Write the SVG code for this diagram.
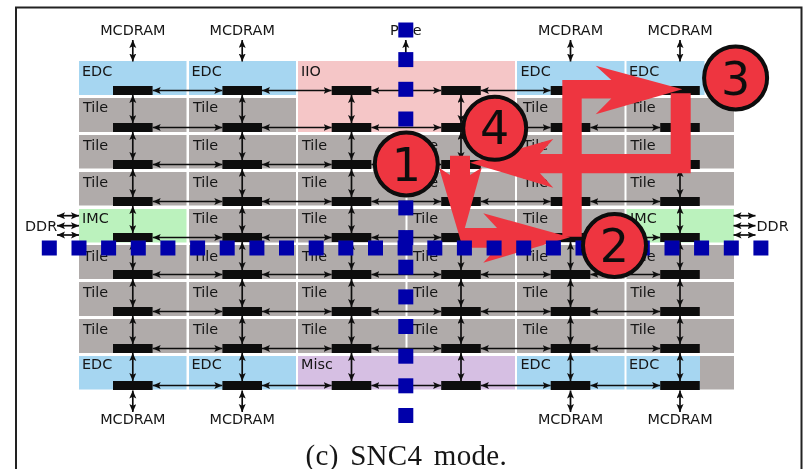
<svg xmlns="http://www.w3.org/2000/svg" width="808" height="469" viewBox="0 0 808 469">
<style>
text{font-family:"DejaVu Sans",sans-serif;font-size:14.4px;fill:#151515}
.m{text-anchor:middle}
.edc{fill:#a6d6f1}.tile{fill:#b0abaa}.iio{fill:#f5c6c7}.misc{fill:#d6bfe3}.imc{fill:#bbf2bd}
.r{fill:#111}
.c path{fill:none;stroke:#111;stroke-width:1.7;marker-start:url(#h);marker-end:url(#h)}
.red{fill:#ee3640}
.d{fill:#0000aa}
.n circle{fill:#ee3640;stroke:#0a0a0a;stroke-width:4}
.n text{font-size:46px;text-anchor:middle;fill:#111}
</style>
<defs>
<marker id="h" markerUnits="userSpaceOnUse" markerWidth="9" markerHeight="8" refX="8" refY="3.500" orient="auto-start-reverse"><path d="M0 0L8 3.500L0 7L1.700 3.500z" fill="#111"/></marker>
<rect id="dot" class="d" x="-7.500" y="-7.500" width="15" height="15"/>
<filter id="soft" x="0" y="0" width="100%" height="100%" filterUnits="userSpaceOnUse"><feGaussianBlur stdDeviation="0.4"/></filter>
</defs>
<rect width="808" height="469" fill="#fff"/>
<g filter="url(#soft)">
<path d="M16 469V7.500H801.500V469" fill="none" stroke="#222" stroke-width="2"/>

<g id="iio"><rect class="iio" x="298" y="61" width="217" height="71"/><text x="301" y="76">IIO</text></g>
<g id="misc"><rect class="misc" x="298" y="356" width="217" height="33.500"/><text x="301" y="369">Misc</text></g>

<g id="r0c1"><rect class="edc" x="79" y="61" width="107.500" height="34"/><text x="82" y="76">EDC</text><rect class="r" x="113" y="86" width="39.600" height="9"/></g>
<g id="r0c2"><rect class="edc" x="189" y="61" width="107" height="34"/><text x="191.500" y="76">EDC</text><rect class="r" x="222.400" y="86" width="39.600" height="9"/></g>
<g id="r0c3"><rect class="r" x="331.700" y="86" width="39.600" height="9"/></g>
<g id="r0c4"><rect class="r" x="441.200" y="86" width="39.600" height="9"/></g>
<g id="r0c5"><rect class="edc" x="517" y="61" width="107.500" height="34"/><text x="520.500" y="76">EDC</text><rect class="r" x="550.700" y="86" width="39.600" height="9"/></g>
<g id="r0c6"><rect class="edc" x="626.500" y="61" width="78" height="34"/><text x="629" y="76">EDC</text><rect class="r" x="660.200" y="86" width="39.600" height="9"/></g>

<g id="r1c1"><rect class="tile" x="79" y="98" width="107.500" height="34"/><text x="83" y="112">Tile</text><rect class="r" x="113" y="123" width="39.600" height="9"/></g>
<g id="r1c2"><rect class="tile" x="189" y="98" width="107" height="34"/><text x="193" y="112">Tile</text><rect class="r" x="222.400" y="123" width="39.600" height="9"/></g>
<g id="r1c3"><rect class="r" x="331.700" y="123" width="39.600" height="9"/></g>
<g id="r1c4"><rect class="r" x="441.200" y="123" width="39.600" height="9"/></g>
<g id="r1c5"><rect class="tile" x="517" y="98" width="107.500" height="34"/><text x="523" y="112">Tile</text><rect class="r" x="550.700" y="123" width="39.600" height="9"/></g>
<g id="r1c6"><rect class="tile" x="626.500" y="98" width="107.500" height="34"/><text x="630.500" y="112">Tile</text><rect class="r" x="660.200" y="123" width="39.600" height="9"/></g>

<g id="r2c1"><rect class="tile" x="79" y="135" width="107.500" height="33.500"/><text x="83" y="149.500">Tile</text><rect class="r" x="113" y="160" width="39.600" height="9"/></g>
<g id="r2c2"><rect class="tile" x="189" y="135" width="107" height="33.500"/><text x="193" y="149.500">Tile</text><rect class="r" x="222.400" y="160" width="39.600" height="9"/></g>
<g id="r2c3"><rect class="tile" x="298" y="135" width="107.500" height="33.500"/><text x="302" y="149.500">Tile</text><rect class="r" x="331.700" y="160" width="39.600" height="9"/></g>
<g id="r2c4"><rect class="tile" x="407.500" y="135" width="107.500" height="33.500"/><text x="413" y="149.500">Tile</text><rect class="r" x="441.200" y="160" width="39.600" height="9"/></g>
<g id="r2c5"><rect class="tile" x="517" y="135" width="107.500" height="33.500"/><text x="523" y="149.500">Tile</text><rect class="r" x="550.700" y="160" width="39.600" height="9"/></g>
<g id="r2c6"><rect class="tile" x="626.500" y="135" width="107.500" height="33.500"/><text x="630.500" y="149.500">Tile</text><rect class="r" x="660.200" y="160" width="39.600" height="9"/></g>

<g id="r3c1"><rect class="tile" x="79" y="172" width="107.500" height="33.500"/><text x="83" y="186.500">Tile</text><rect class="r" x="113" y="197" width="39.600" height="9"/></g>
<g id="r3c2"><rect class="tile" x="189" y="172" width="107" height="33.500"/><text x="193" y="186.500">Tile</text><rect class="r" x="222.400" y="197" width="39.600" height="9"/></g>
<g id="r3c3"><rect class="tile" x="298" y="172" width="107.500" height="33.500"/><text x="302" y="186.500">Tile</text><rect class="r" x="331.700" y="197" width="39.600" height="9"/></g>
<g id="r3c4"><rect class="tile" x="407.500" y="172" width="107.500" height="33.500"/><text x="413" y="186.500">Tile</text><rect class="r" x="441.200" y="197" width="39.600" height="9"/></g>
<g id="r3c5"><rect class="tile" x="517" y="172" width="107.500" height="33.500"/><text x="523" y="186.500">Tile</text><rect class="r" x="550.700" y="197" width="39.600" height="9"/></g>
<g id="r3c6"><rect class="tile" x="626.500" y="172" width="107.500" height="33.500"/><text x="630.500" y="186.500">Tile</text><rect class="r" x="660.200" y="197" width="39.600" height="9"/></g>

<g id="r4c1"><rect class="imc" x="79" y="209" width="107.500" height="33.500"/><text x="82" y="223">IMC</text><rect class="r" x="113" y="233" width="39.600" height="9"/></g>
<g id="r4c2"><rect class="tile" x="189" y="209" width="107" height="33.500"/><text x="193" y="223">Tile</text><rect class="r" x="222.400" y="233" width="39.600" height="9"/></g>
<g id="r4c3"><rect class="tile" x="298" y="209" width="107.500" height="33.500"/><text x="302" y="223">Tile</text><rect class="r" x="331.700" y="233" width="39.600" height="9"/></g>
<g id="r4c4"><rect class="tile" x="407.500" y="209" width="107.500" height="33.500"/><text x="413" y="223">Tile</text><rect class="r" x="441.200" y="233" width="39.600" height="9"/></g>
<g id="r4c5"><rect class="tile" x="517" y="209" width="107.500" height="33.500"/><text x="523" y="223">Tile</text><rect class="r" x="550.700" y="233" width="39.600" height="9"/></g>
<g id="r4c6"><rect class="imc" x="626.500" y="209" width="107.500" height="33.500"/><text x="630" y="223">IMC</text><rect class="r" x="660.200" y="233" width="39.600" height="9"/></g>

<g id="r5c1"><rect class="tile" x="79" y="245" width="107.500" height="34"/><text x="83" y="261">Tile</text><rect class="r" x="113" y="270" width="39.600" height="9"/></g>
<g id="r5c2"><rect class="tile" x="189" y="245" width="107" height="34"/><text x="193" y="261">Tile</text><rect class="r" x="222.400" y="270" width="39.600" height="9"/></g>
<g id="r5c3"><rect class="tile" x="298" y="245" width="107.500" height="34"/><text x="302" y="261">Tile</text><rect class="r" x="331.700" y="270" width="39.600" height="9"/></g>
<g id="r5c4"><rect class="tile" x="407.500" y="245" width="107.500" height="34"/><text x="413" y="261">Tile</text><rect class="r" x="441.200" y="270" width="39.600" height="9"/></g>
<g id="r5c5"><rect class="tile" x="517" y="245" width="107.500" height="34"/><text x="523" y="261">Tile</text><rect class="r" x="550.700" y="270" width="39.600" height="9"/></g>
<g id="r5c6"><rect class="tile" x="626.500" y="245" width="107.500" height="34"/><text x="630.500" y="261">Tile</text><rect class="r" x="660.200" y="270" width="39.600" height="9"/></g>

<g id="r6c1"><rect class="tile" x="79" y="282" width="107.500" height="34"/><text x="83" y="296.500">Tile</text><rect class="r" x="113" y="307" width="39.600" height="9"/></g>
<g id="r6c2"><rect class="tile" x="189" y="282" width="107" height="34"/><text x="193" y="296.500">Tile</text><rect class="r" x="222.400" y="307" width="39.600" height="9"/></g>
<g id="r6c3"><rect class="tile" x="298" y="282" width="107.500" height="34"/><text x="302" y="296.500">Tile</text><rect class="r" x="331.700" y="307" width="39.600" height="9"/></g>
<g id="r6c4"><rect class="tile" x="407.500" y="282" width="107.500" height="34"/><text x="413" y="296.500">Tile</text><rect class="r" x="441.200" y="307" width="39.600" height="9"/></g>
<g id="r6c5"><rect class="tile" x="517" y="282" width="107.500" height="34"/><text x="523" y="296.500">Tile</text><rect class="r" x="550.700" y="307" width="39.600" height="9"/></g>
<g id="r6c6"><rect class="tile" x="626.500" y="282" width="107.500" height="34"/><text x="630.500" y="296.500">Tile</text><rect class="r" x="660.200" y="307" width="39.600" height="9"/></g>

<g id="r7c1"><rect class="tile" x="79" y="319" width="107.500" height="34"/><text x="83" y="333.500">Tile</text><rect class="r" x="113" y="344" width="39.600" height="9"/></g>
<g id="r7c2"><rect class="tile" x="189" y="319" width="107" height="34"/><text x="193" y="333.500">Tile</text><rect class="r" x="222.400" y="344" width="39.600" height="9"/></g>
<g id="r7c3"><rect class="tile" x="298" y="319" width="107.500" height="34"/><text x="302" y="333.500">Tile</text><rect class="r" x="331.700" y="344" width="39.600" height="9"/></g>
<g id="r7c4"><rect class="tile" x="407.500" y="319" width="107.500" height="34"/><text x="413" y="333.500">Tile</text><rect class="r" x="441.200" y="344" width="39.600" height="9"/></g>
<g id="r7c5"><rect class="tile" x="517" y="319" width="107.500" height="34"/><text x="523" y="333.500">Tile</text><rect class="r" x="550.700" y="344" width="39.600" height="9"/></g>
<g id="r7c6"><rect class="tile" x="626.500" y="319" width="107.500" height="34"/><text x="630.500" y="333.500">Tile</text><rect class="r" x="660.200" y="344" width="39.600" height="9"/></g>

<g id="r8c1"><rect class="edc" x="79" y="356" width="107.500" height="33.500"/><text x="82" y="369">EDC</text><rect class="r" x="113" y="381" width="39.600" height="9"/></g>
<g id="r8c2"><rect class="edc" x="189" y="356" width="107" height="33.500"/><text x="191.500" y="369">EDC</text><rect class="r" x="222.400" y="381" width="39.600" height="9"/></g>
<g id="r8c3"><rect class="r" x="331.700" y="381" width="39.600" height="9"/></g>
<g id="r8c4"><rect class="r" x="441.200" y="381" width="39.600" height="9"/></g>
<g id="r8c5"><rect class="edc" x="517" y="356" width="107.500" height="33.500"/><text x="520.500" y="369">EDC</text><rect class="r" x="550.700" y="381" width="39.600" height="9"/></g>
<g id="r8c6"><rect class="tile" x="700" y="356" width="34" height="33.500"/><rect class="edc" x="626.500" y="356" width="73.500" height="33.500"/><text x="629" y="369">EDC</text><rect class="r" x="660.200" y="381" width="39.600" height="9"/></g>

<g id="mcdram-top"><text class="m" x="132.800" y="35">MCDRAM</text><text class="m" x="242.200" y="35">MCDRAM</text><text class="m" x="405.800" y="35">PCIe</text><text class="m" x="570.500" y="35">MCDRAM</text><text class="m" x="680" y="35">MCDRAM</text></g>
<g id="mcdram-bottom"><text class="m" x="132.800" y="423.500">MCDRAM</text><text class="m" x="242.200" y="423.500">MCDRAM</text><text class="m" x="570.500" y="423.500">MCDRAM</text><text class="m" x="680" y="423.500">MCDRAM</text></g>
<g id="ddr"><text x="25" y="230.500">DDR</text><text x="756.500" y="230.500">DDR</text></g>

<g id="connectors" class="c">
<path d="M132.800 40V61.500"/><path d="M242.200 40V61.500"/><path d="M405.800 40V61.500"/><path d="M570.500 40V61.500"/><path d="M680 40V61.500"/>
<path d="M132.800 390.500V412"/><path d="M242.200 390.500V412"/><path d="M570.500 390.500V412"/><path d="M680 390.500V412"/>
<path d="M57 215.700H79"/><path d="M57 225.700H79"/><path d="M57 235H79"/><path d="M733.500 215.700H755.500"/><path d="M733.500 225.700H755.500"/><path d="M733.500 235H755.500"/>
<path d="M152.700 90.500H222.300"/><path d="M262 90.500H331.600"/><path d="M371.400 90.500H441.100"/><path d="M480.900 90.500H550.600"/><path d="M590.400 90.500H660.100"/>
<path d="M152.700 127.500H222.300"/><path d="M262 127.500H331.600"/><path d="M371.400 127.500H441.100"/><path d="M480.900 127.500H550.600"/><path d="M590.400 127.500H660.100"/>
<path d="M152.700 164.500H222.300"/><path d="M262 164.500H331.600"/><path d="M371.400 164.500H441.100"/><path d="M480.900 164.500H550.600"/><path d="M590.400 164.500H660.100"/>
<path d="M152.700 201.500H222.300"/><path d="M262 201.500H331.600"/><path d="M371.400 201.500H441.100"/><path d="M480.900 201.500H550.600"/><path d="M590.400 201.500H660.100"/>
<path d="M152.700 237.500H222.300"/><path d="M262 237.500H331.600"/><path d="M371.400 237.500H441.100"/><path d="M480.900 237.500H550.600"/><path d="M590.400 237.500H660.100"/>
<path d="M152.700 274.500H222.300"/><path d="M262 274.500H331.600"/><path d="M371.400 274.500H441.100"/><path d="M480.900 274.500H550.600"/><path d="M590.400 274.500H660.100"/>
<path d="M152.700 311.500H222.300"/><path d="M262 311.500H331.600"/><path d="M371.400 311.500H441.100"/><path d="M480.900 311.500H550.600"/><path d="M590.400 311.500H660.100"/>
<path d="M152.700 348.500H222.300"/><path d="M262 348.500H331.600"/><path d="M371.400 348.500H441.100"/><path d="M480.900 348.500H550.600"/><path d="M590.400 348.500H660.100"/>
<path d="M152.700 385.500H222.300"/><path d="M262 385.500H331.600"/><path d="M371.400 385.500H441.100"/><path d="M480.900 385.500H550.600"/><path d="M590.400 385.500H660.100"/>
<path d="M132.800 95V123"/><path d="M132.800 132V160"/><path d="M132.800 169V197"/><path d="M132.800 206V233"/><path d="M132.800 242V270"/><path d="M132.800 279V307"/><path d="M132.800 316V344"/><path d="M132.800 353V381"/>
<path d="M242.200 95V123"/><path d="M242.200 132V160"/><path d="M242.200 169V197"/><path d="M242.200 206V233"/><path d="M242.200 242V270"/><path d="M242.200 279V307"/><path d="M242.200 316V344"/><path d="M242.200 353V381"/>
<path d="M351.500 95V123"/><path d="M351.500 132V160"/><path d="M351.500 169V197"/><path d="M351.500 206V233"/><path d="M351.500 242V270"/><path d="M351.500 279V307"/><path d="M351.500 316V344"/><path d="M351.500 353V381"/>
<path d="M461 95V123"/><path d="M461 132V160"/><path d="M461 169V197"/><path d="M461 206V233"/><path d="M461 242V270"/><path d="M461 279V307"/><path d="M461 316V344"/><path d="M461 353V381"/>
<path d="M570.500 95V123"/><path d="M570.500 132V160"/><path d="M570.500 169V197"/><path d="M570.500 206V233"/><path d="M570.500 242V270"/><path d="M570.500 279V307"/><path d="M570.500 316V344"/><path d="M570.500 353V381"/>
<path d="M680 95V123"/><path d="M680 132V160"/><path d="M680 169V197"/><path d="M680 206V233"/><path d="M680 242V270"/><path d="M680 279V307"/><path d="M680 316V344"/><path d="M680 353V381"/>
</g>

<g id="route">
<path class="red" d="M450 155.700H470V175L481.700 167.700L461 241.700L439 167.700L450 175Z"/>
<path class="red" d="M461 228H497L483.300 213.300L570 237.300L483.300 262.700L497 247.700H461Z"/>
<path class="red" d="M581.700 236.700H562.300V80H611.300L595.700 65.700L682.300 89.300L595.700 114.300L611.300 98.500H581.700Z"/>
<path class="red" d="M670.700 93.300H690.700V173.300H540L553.300 187.700L470 162.700L553.300 139L540 154H670.700Z"/>
</g>

<g id="vertical-dots"><use href="#dot" x="405.800" y="30"/><use href="#dot" x="405.800" y="59.600"/><use href="#dot" x="405.800" y="89.300"/><use href="#dot" x="405.800" y="119"/><use href="#dot" x="405.800" y="148.600"/><use href="#dot" x="405.800" y="178.300"/><use href="#dot" x="405.800" y="207.900"/><use href="#dot" x="405.800" y="237.600"/><use href="#dot" x="405.800" y="267.200"/><use href="#dot" x="405.800" y="296.900"/><use href="#dot" x="405.800" y="326.500"/><use href="#dot" x="405.800" y="356.200"/><use href="#dot" x="405.800" y="385.800"/><use href="#dot" x="405.800" y="415.500"/></g>
<g id="horizontal-dots"><use href="#dot" x="49.300" y="248"/><use href="#dot" x="79" y="248"/><use href="#dot" x="108.600" y="248"/><use href="#dot" x="138.300" y="248"/><use href="#dot" x="167.900" y="248"/><use href="#dot" x="197.600" y="248"/><use href="#dot" x="227.200" y="248"/><use href="#dot" x="256.900" y="248"/><use href="#dot" x="286.500" y="248"/><use href="#dot" x="316.200" y="248"/><use href="#dot" x="345.800" y="248"/><use href="#dot" x="375.500" y="248"/><use href="#dot" x="405.100" y="248"/><use href="#dot" x="434.800" y="248"/><use href="#dot" x="464.400" y="248"/><use href="#dot" x="494.100" y="248"/><use href="#dot" x="523.700" y="248"/><use href="#dot" x="553.400" y="248"/><use href="#dot" x="583" y="248"/><use href="#dot" x="612.700" y="248"/><use href="#dot" x="642.300" y="248"/><use href="#dot" x="672" y="248"/><use href="#dot" x="701.600" y="248"/><use href="#dot" x="731.300" y="248"/><use href="#dot" x="760.900" y="248"/></g>

<g id="n1" class="n"><circle cx="406.300" cy="164" r="31.500"/><text x="406.300" y="181">1</text></g>
<g id="n2" class="n"><circle cx="614.500" cy="245.500" r="31.500"/><text x="614.500" y="261.500">2</text></g>
<g id="n3" class="n"><circle cx="735.600" cy="78" r="31.500"/><text x="735.600" y="94.500">3</text></g>
<g id="n4" class="n"><circle cx="494.700" cy="128.300" r="31.500"/><text x="494.700" y="144">4</text></g>

<text x="305.500" y="464.500" style="font-family:'Liberation Serif',serif;font-size:29px;word-spacing:4px;letter-spacing:.3px">(c) SNC4 mode.</text>
</g>
</svg>
